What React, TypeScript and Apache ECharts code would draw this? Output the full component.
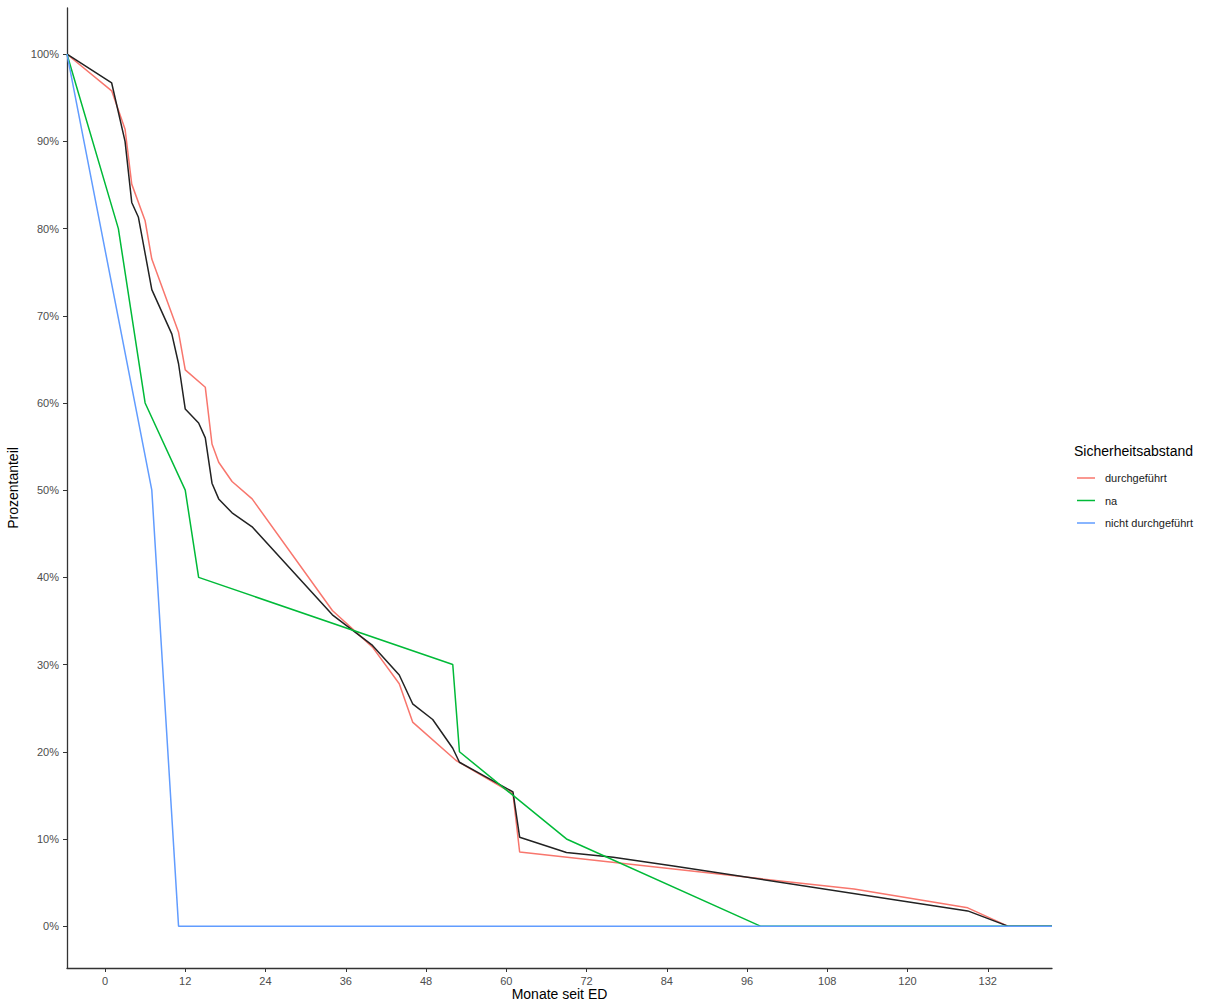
import React, { useEffect, useRef } from "react";
import * as echarts from "echarts";

// Survival-style curves: share of patients remaining over months since ED
const X_START = -5.68;
const X_END = 141.6;

const xTicks = [0, 12, 24, 36, 48, 60, 72, 84, 96, 108, 120, 132];
const yTicks = [0, 10, 20, 30, 40, 50, 60, 70, 80, 90, 100];

const seriesNames = ["durchgeführt", "na", "nicht durchgeführt"];
const seriesColors = ["#F8766D", "#00BA38", "#619CFF"];

// months / percent pairs
const durchgefuehrtMonths = [X_START, 1, 3, 4, 6, 7, 11, 12, 15, 16, 17, 19, 22, 34, 40, 44, 46, 52.5, 61, 62, 112, 129, 135, X_END];
const durchgefuehrtPct = [100, 95.8, 91.4, 85.1, 80.9, 76.5, 68.1, 63.8, 61.8, 55.3, 53.2, 51.0, 49.0, 36.2, 32.0, 27.8, 23.4, 19.0, 15.2, 8.5, 4.25, 2.1, 0, 0];

const naMonths = [X_START, 2, 6, 12, 14, 52, 53, 69, 98, X_END];
const naPct = [100, 80, 60, 50, 40, 30, 20, 10, 0, 0];

const nichtMonths = [X_START, 7, 11, X_END];
const nichtPct = [100, 50, 0, 0];

const gesamtMonths = [X_START, 1, 3, 4, 5, 7, 10, 11, 12, 14, 15, 16, 17, 19, 22, 34, 40, 44, 46, 49, 52, 53, 61, 62, 69, 76, 85, 129, 135, X_END];
const gesamtPct = [100, 96.7, 90.0, 83.0, 81.3, 73.0, 67.9, 64.5, 59.3, 57.7, 56.0, 50.8, 49.0, 47.4, 45.8, 35.7, 32.2, 28.8, 25.5, 23.7, 20.4, 18.8, 15.4, 10.2, 8.45, 7.9, 6.9, 1.75, 0, 0];

const pairs = (xs: number[], ys: number[]) => xs.map((x, i) => [x, ys[i]]);

const FONT = "'Liberation Sans', Arial, sans-serif";

export default function App() {
  const ref = useRef<HTMLDivElement>(null);

  useEffect(() => {
    if (!ref.current) return;
    const chart = echarts.init(ref.current, undefined, { renderer: "svg" });

    const line = (name: string, data: number[][], color: string, z: number) => ({
      name,
      type: "line",
      data,
      symbol: "none",
      showSymbol: false,
      z,
      lineStyle: { color, width: 1.5 },
      itemStyle: { color },
      emphasis: { disabled: true },
    });

    chart.setOption({
      animation: false,
      textStyle: { fontFamily: FONT },
      title: {
        text: "Sicherheitsabstand",
        left: 1074,
        top: 444,
        padding: 0,
        textStyle: { fontSize: 14, fontWeight: "normal", color: "#000", fontFamily: FONT },
      },
      legend: {
        data: seriesNames,
        orient: "vertical",
        left: 1077,
        top: 471,
        padding: 0,
        icon: "rect",
        itemWidth: 18,
        itemHeight: 1.5,
        itemGap: 8.5,
        selectedMode: false,
        textStyle: { fontSize: 11, color: "#1a1a1a", lineHeight: 14, padding: [0, 0, 0, 5], fontFamily: FONT },
      },
      // x-axis title, placed under the tick labels
      graphic: [
        {
          type: "text",
          x: 559.5,
          y: 994,
          silent: true,
          style: {
            text: "Monate seit ED",
            fill: "#000",
            fontSize: 14,
            fontFamily: FONT,
            textAlign: "center",
            textVerticalAlign: "middle",
          },
        },
      ],
      grid: { left: 67, right: 156, top: 8, bottom: 35, containLabel: false, outerBoundsMode: "none" },
      xAxis: {
        type: "value",
        min: X_START,
        max: X_END,
        axisLine: { show: true, onZero: false, lineStyle: { color: "#333", width: 1.3 } },
        axisTick: { show: true, customValues: xTicks, length: 4, lineStyle: { color: "#333", width: 1 } },
        axisLabel: { customValues: xTicks, color: "#4d4d4d", fontSize: 11, margin: 7, fontFamily: FONT },
        splitLine: { show: false },
      },
      yAxis: {
        type: "value",
        min: -4.8,
        max: 105.3,
        name: "Prozentanteil",
        nameLocation: "middle",
        nameGap: 43,
        nameRotate: 90,
        nameTextStyle: { fontSize: 14, color: "#000", fontFamily: FONT },
        axisLine: { show: true, onZero: false, lineStyle: { color: "#333", width: 1.3 } },
        axisTick: { show: true, customValues: yTicks, length: 4, lineStyle: { color: "#333", width: 1 } },
        axisLabel: {
          customValues: yTicks,
          color: "#4d4d4d",
          fontSize: 11,
          margin: 8,
          fontFamily: FONT,
          formatter: (v: number) => `${v}%`,
        },
        splitLine: { show: false },
      },
      series: [
        line(seriesNames[0], pairs(durchgefuehrtMonths, durchgefuehrtPct), seriesColors[0], 2),
        line("Gesamt", pairs(gesamtMonths, gesamtPct), "#222", 3),
        line(seriesNames[1], pairs(naMonths, naPct), seriesColors[1], 4),
        line(seriesNames[2], pairs(nichtMonths, nichtPct), seriesColors[2], 5),
      ],
    });

    return () => chart.dispose();
  }, []);

  return (
    <div
      ref={ref}
      style={{ position: "fixed", left: 0, top: 0, width: 1208, height: 1003, background: "#fff" }}
    />
  );
}
